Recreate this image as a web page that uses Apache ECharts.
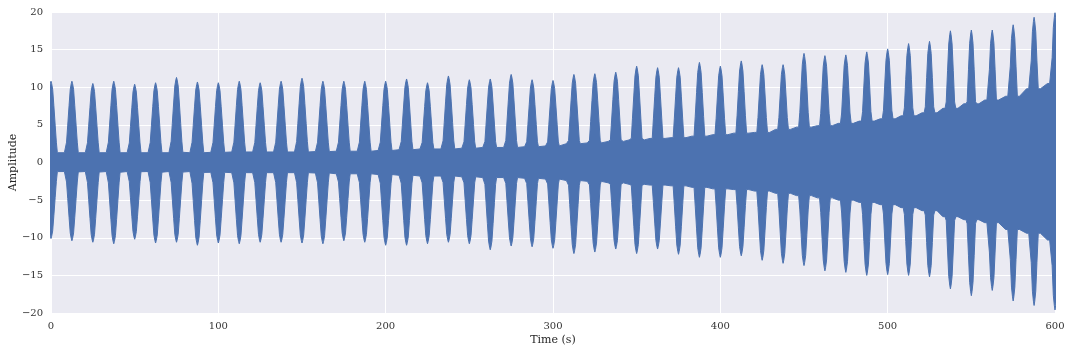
<!DOCTYPE html>
<html>
<head>
<meta charset="utf-8">
<script src="https://cdn.jsdelivr.net/npm/echarts@6/dist/echarts.min.js"></script>
<style>
html,body{margin:0;padding:0;background:#fff;}
#chart{width:1072px;height:352px;}
</style>
</head>
<body>
<div id="chart"></div>
<script>
// Burst centre times (s)
const burstTimes = [0,12.5,25,37.5,50,62.5,75,87.5,100,112.5,125,137.5,150,162.5,175,187.5,200,
  212.5,225,237.5,250,262.5,275,287.5,300,312.5,325,337.5,350,362.5,375,387.5,400,412.5,425,437.5,
  450,462.5,475,487.5,500,512.5,525,537.5,550,562.5,575,587.5,600];
// Burst peak amplitudes (upper / lower)
const peakTop = [10.8,10.8,10.5,10.8,10.4,10.6,11.3,10.7,10.6,10.8,10.6,10.8,11.2,10.8,10.8,10.8,10.8,
  11.1,10.6,11.5,11.0,11.1,11.7,11.0,10.9,11.7,11.8,12.0,12.8,12.6,12.6,13.3,12.8,13.5,13.0,13.0,
  14.5,14.2,14.3,14.7,15.1,15.8,16.1,17.5,17.6,17.6,18.3,19.3,19.9];
const peakBottom = [-10.1,-10.4,-10.6,-10.8,-10.2,-10.7,-10.6,-11.0,-10.7,-10.8,-10.6,-10.6,-10.7,-10.8,-10.4,-10.6,-11.0,
  -11.0,-10.8,-10.6,-10.8,-11.6,-11.1,-11.2,-11.4,-12.1,-11.9,-11.5,-12.1,-11.5,-12.2,-12.6,-12.6,-12.4,-13.0,-13.4,
  -13.7,-14.4,-14.6,-15.0,-14.9,-15.0,-15.2,-16.8,-17.7,-17.0,-18.4,-19.0,-19.6];
// Background (between-burst) amplitude around each burst
const floorTop = [1.3,1.3,1.3,1.3,1.3,1.3,1.3,1.3,1.35,1.4,1.4,1.4,1.4,1.45,1.5,1.5,1.6,
  1.7,1.8,1.8,1.9,2.0,2.0,2.1,2.2,2.5,2.6,2.8,3.0,3.2,3.3,3.5,3.7,3.9,4.0,4.4,
  4.7,4.9,5.2,5.5,5.8,6.2,6.6,7.2,7.8,8.3,8.8,9.8,10.5];
const floorBottom = [-1.2,-1.2,-1.2,-1.2,-1.2,-1.2,-1.2,-1.2,-1.3,-1.35,-1.35,-1.35,-1.35,-1.4,-1.5,-1.5,-1.6,
  -1.7,-1.8,-1.8,-1.9,-2.0,-2.0,-2.1,-2.2,-2.4,-2.5,-2.7,-2.9,-3.0,-3.1,-3.3,-3.5,-3.6,-3.8,-4.1,
  -4.4,-4.7,-5.0,-5.3,-5.6,-6.0,-6.4,-7.2,-7.6,-8.0,-8.9,-9.4,-10.3];
// Measured burst profile: time offset from centre (s) and fraction of peak
const profileOffsets = [-4.5,-3.8,-3.2,-2.5,-1.7,-1.0,-0.4,0,0.4,1.0,1.7,2.5,3.2,3.8,4.5];
const profileLevels  = [0.04,0.12,0.25,0.46,0.70,0.90,0.97,1,0.97,0.90,0.70,0.46,0.25,0.12,0.04];
// Axis ticks
const xTicks = [0,100,200,300,400,500,600];
const yTicks = [-20,-15,-10,-5,0,5,10,15,20];

function envelope(peaks, floors, upper) {
  const pts = [];
  for (let k = 0; k < burstTimes.length; k++) {
    for (let j = 0; j < profileOffsets.length; j++) {
      const v = peaks[k] * profileLevels[j];
      pts.push([burstTimes[k] + profileOffsets[j], upper ? Math.max(floors[k], v) : Math.min(floors[k], v)]);
    }
  }
  return pts;
}

const blue = '#4C72B0';
const font = 'DejaVu Serif';
const chart = echarts.init(document.getElementById('chart'), null, {renderer: 'canvas'});
chart.setOption({
  animation: false,
  backgroundColor: '#ffffff',
  grid: {left: 51, right: 17, top: 12, bottom: 39, show: true, backgroundColor: '#EAEAF2', borderWidth: 0,
         containLabel: false, outerBoundsMode: 'none'},
  xAxis: {
    type: 'value', min: xTicks[0], max: xTicks[xTicks.length - 1], interval: 100,
    name: 'Time (s)', nameLocation: 'middle', nameGap: 22, nameMoveOverlap: false,
    nameTextStyle: {fontFamily: font, fontSize: 11, color: '#262626'},
    axisLine: {show: false}, axisTick: {show: false},
    axisLabel: {fontFamily: font, fontSize: 10, color: '#333', margin: 8},
    splitLine: {show: true, lineStyle: {color: '#ffffff', width: 1}}
  },
  yAxis: {
    type: 'value', min: yTicks[0], max: yTicks[yTicks.length - 1], interval: 5,
    name: 'Amplitude', nameLocation: 'middle', nameGap: 32, nameMoveOverlap: false,
    nameTextStyle: {fontFamily: font, fontSize: 11, color: '#262626'},
    axisLine: {show: false}, axisTick: {show: false},
    axisLabel: {fontFamily: font, fontSize: 10, color: '#333', margin: 8,
      formatter: v => (v < 0 ? '\u2212' + Math.abs(v) : String(v))},
    splitLine: {show: true, lineStyle: {color: '#ffffff', width: 1}}
  },
  series: [
    {type: 'line', data: envelope(peakTop, floorTop, true), symbol: 'none', clip: true,
     lineStyle: {color: blue, width: 1}, areaStyle: {color: blue, opacity: 1, origin: -1}},
    {type: 'line', data: envelope(peakBottom, floorBottom, false), symbol: 'none', clip: true,
     lineStyle: {color: blue, width: 1}, areaStyle: {color: blue, opacity: 1, origin: 1}}
  ]
});
</script>
</body>
</html>
